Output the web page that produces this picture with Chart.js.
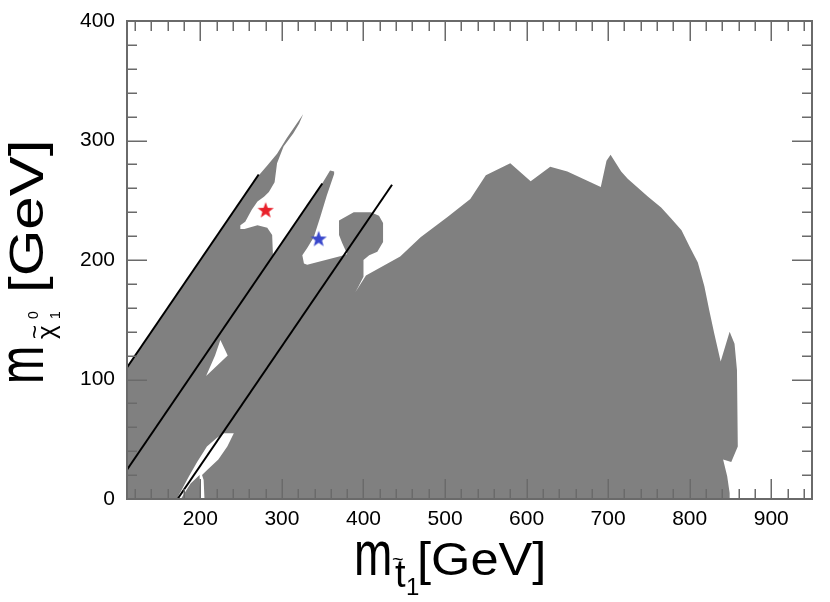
<!DOCTYPE html>
<html>
<head>
<meta charset="utf-8">
<script src="https://cdn.jsdelivr.net/npm/chart.js@4.4.1/dist/chart.umd.min.js"></script>
<style>
  html, body { margin: 0; padding: 0; background: #fff; }
  #wrap { width: 830px; height: 602px; }
</style>
</head>
<body>
<div id="wrap"><canvas id="scan" width="830" height="602"></canvas></div>
<script>
// tick labels (GeV)
const xTickValues = [200, 300, 400, 500, 600, 700, 800, 900];
const yTickValues = [0, 100, 200, 300, 400];

// outline of the excluded (grey) region: m_stop, m_neutralino in GeV
const excludedX = [110, 110, 268, 282, 294, 306, 326, 321, 314, 302, 294, 291, 284, 278, 270, 263, 255, 249, 249, 254, 270, 282, 288, 289, 289,
  349, 359, 364, 364, 355, 347, 339, 331, 325, 327, 331, 376,
  380, 374, 370, 370, 388, 409, 419, 424, 424, 417, 407, 400, 400, 394, 390,
  403, 445, 470, 503, 531, 550, 580, 605, 629, 650, 691, 698, 703, 716, 724, 749, 765, 777, 790, 800, 810, 818, 824, 830, 838, 849, 855, 858, 859, 851, 841, 846, 849, 849, 860];
const excludedY = [0, 110, 268, 279, 289, 302, 322, 314, 306, 295, 281, 265, 257, 253, 249, 242, 232, 229, 226, 226, 229, 227, 221, 211, 203.5,
  263.5, 275, 274, 272, 254, 236, 219, 210, 204, 197, 196, 204,
  205, 214, 221, 233, 240, 240, 237, 231, 215, 207, 204, 200, 186, 178, 173,
  187, 203, 219, 236, 251, 271, 281, 266, 278, 274, 261, 283, 288, 274, 268, 253, 244, 235, 225, 211, 198, 178, 158, 139, 115, 140, 130, 108, 44, 31, 33, 19, 5, 0, 0];

// allowed islands inside the grey region
const hole1X = [207, 218, 224.5, 233.5];
const hole1Y = [103, 120, 133, 120];
const hole2X = [171, 186, 196, 208, 220, 229, 241, 233, 222, 208, 202, 204, 205, 200, 199, 188, 176];
const hole2Y = [0, 19, 31, 44, 51, 55, 55, 44, 33, 24, 20, 16, 0, 0, 20, 13, 0];

// kinematic lines
const line1X = [110, 271.5];
const line1Y = [110, 271.5];
const line2X = [110, 349.5];
const line2Y = [24.5, 264];
const line3X = [172, 435];
const line3Y = [0, 263];

// benchmark points
const redStarX = [280];
const redStarY = [242];
const blueStarX = [345];
const blueStarY = [218];

const toPoints = (xs, ys) => xs.map((x, i) => ({ x: x, y: ys[i] }));

function starImage(color) {
  const c = document.createElement('canvas');
  c.width = 18;
  c.height = 18;
  const g = c.getContext('2d');
  g.fillStyle = color;
  g.beginPath();
  for (let i = 0; i < 10; i++) {
    const r = i % 2 === 0 ? 8.5 : 3.5;
    const a = -Math.PI / 2 + i * Math.PI / 5;
    g.lineTo(9 + r * Math.cos(a), 9.8 + r * Math.sin(a));
  }
  g.closePath();
  g.fill();
  return c;
}

function polygon(xs, ys, color, order) {
  return {
    data: toPoints(xs, ys),
    backgroundColor: color,
    borderColor: color,
    borderWidth: 0,
    pointRadius: 0,
    fill: 'shape',
    tension: 0,
    order: order,
  };
}

function segment(xs, ys) {
  return {
    data: toPoints(xs, ys),
    borderColor: '#000',
    borderWidth: 2,
    pointRadius: 0,
    fill: false,
    order: 2,
  };
}

function marker(xs, ys, color) {
  return {
    data: toPoints(xs, ys),
    showLine: false,
    pointStyle: starImage(color),
    pointRadius: 9,
    order: 1,
  };
}

// inward ticks on all four sides plus the frame
const frameTicks = {
  id: 'frameTicks',
  afterDatasetsDraw(chart) {
    const { ctx, chartArea: a, scales: { x, y } } = chart;
    ctx.save();
    ctx.strokeStyle = '#6a6a6a';
    ctx.lineWidth = 1.5;
    ctx.beginPath();
    for (let v = Math.ceil(x.min / 20) * 20; v < x.max; v += 20) {
      const px = Math.round(x.getPixelForValue(v)) + 0.25;
      const len = v % 100 === 0 ? 20 : 10;
      ctx.moveTo(px, a.bottom);
      ctx.lineTo(px, a.bottom - len);
      ctx.moveTo(px, a.top);
      ctx.lineTo(px, a.top + len);
    }
    for (let v = y.min + 20; v < y.max; v += 20) {
      const py = Math.round(y.getPixelForValue(v)) + 0.25;
      const len = v % 100 === 0 ? 20 : 10;
      ctx.moveTo(a.left, py);
      ctx.lineTo(a.left + len, py);
      ctx.moveTo(a.right, py);
      ctx.lineTo(a.right - len, py);
    }
    ctx.stroke();
    ctx.lineWidth = 2;
    ctx.strokeRect(a.left, a.top, a.right - a.left, a.bottom - a.top);
    ctx.restore();
  },
};

function drawScaled(ctx, text, x, y, size, sx, sy) {
  ctx.save();
  ctx.translate(x, y);
  ctx.scale(sx, sy);
  ctx.font = size + 'px "Liberation Sans"';
  ctx.fillText(text, 0, 0);
  ctx.restore();
}

// axis titles with tilde, sub- and superscripts
const axisTitles = {
  id: 'axisTitles',
  afterDraw(chart) {
    const ctx = chart.ctx;
    ctx.save();
    ctx.fillStyle = '#000';
    ctx.textBaseline = 'alphabetic';
    ctx.textAlign = 'left';

    // x: m_{t~1} [GeV]
    drawScaled(ctx, 'm', 354, 575, 46, 1, 1.35);
    drawScaled(ctx, '~', 392, 566, 20, 1, 1);
    drawScaled(ctx, 't', 395, 587, 38, 1, 1);
    drawScaled(ctx, '1', 406, 595, 24, 1, 1);
    drawScaled(ctx, '[GeV]', 417, 575, 46, 1.1, 1);

    // y: m_{chi~0_1} [GeV], rotated
    ctx.translate(43, 384);
    ctx.rotate(-Math.PI / 2);
    drawScaled(ctx, 'm', 0, 0, 46, 1, 1.4);
    drawScaled(ctx, 'χ', 45, 12, 26, 1, 1);
    drawScaled(ctx, '~', 45, 0, 24, 1, 1);
    drawScaled(ctx, '0', 65, -5, 14, 1, 1);
    drawScaled(ctx, '1', 65, 17, 14, 1, 1);
    drawScaled(ctx, '[GeV]', 91, 0, 48, 1.25, 1);
    ctx.restore();
  },
};

Chart.defaults.font.family = '"Liberation Sans", Arial, sans-serif';
Chart.defaults.font.size = 21;
Chart.defaults.color = '#000';

new Chart(document.getElementById('scan'), {
  type: 'line',
  data: {
    datasets: [
      polygon(excludedX, excludedY, '#808080', 5),
      polygon(hole1X, hole1Y, '#ffffff', 4),
      polygon(hole2X, hole2Y, '#ffffff', 4),
      segment(line1X, line1Y),
      segment(line2X, line2Y),
      segment(line3X, line3Y),
      marker(redStarX, redStarY, '#e8202a'),
      marker(blueStarX, blueStarY, '#3a48cc'),
    ],
  },
  options: {
    responsive: false,
    animation: false,
    events: [],
    layout: { padding: { left: 0, top: 21, right: 18, bottom: 0 } },
    plugins: { legend: { display: false }, tooltip: { enabled: false } },
    scales: {
      x: {
        type: 'linear',
        min: 110,
        max: 950,
        grid: { display: false },
        border: { display: false },
        ticks: { padding: 0, maxRotation: 0 },
        afterBuildTicks: (s) => { s.ticks = xTickValues.map((v) => ({ value: v })); },
        afterFit: (s) => { s.height = 103; },
      },
      y: {
        type: 'linear',
        min: 0,
        max: 400,
        grid: { display: false },
        border: { display: false },
        ticks: { padding: 4 },
        afterBuildTicks: (s) => { s.ticks = yTickValues.map((v) => ({ value: v })); },
        afterFit: (s) => { s.width = 127; },
      },
    },
  },
  plugins: [frameTicks, axisTitles],
});
</script>
</body>
</html>
